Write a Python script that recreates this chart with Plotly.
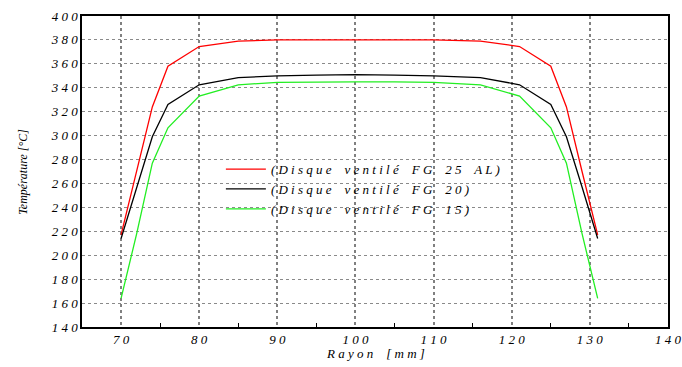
import plotly.graph_objects as go

rayon = [70, 72, 74, 76, 80, 85, 90, 95, 100, 105, 110, 116, 121, 125, 127, 129, 131]
t_fg25al = [217, 270, 324, 358, 374.5, 379, 380, 380, 380, 380, 380, 379, 374.5, 358, 324, 270, 217]
t_fg20 = [214, 257, 299, 326, 342.5, 348.5, 350, 350.5, 351, 350.5, 350, 348.5, 342.5, 326, 299, 257, 214]
t_fg15 = [164, 218, 277, 306.5, 333, 342.5, 344.5, 345, 345, 345, 344.5, 342.5, 333, 306.5, 277, 218, 164]

names = ["(Disque ventilé FG 25 AL)", "(Disque ventilé FG 20)", "(Disque ventilé FG 15)"]
colors = ["#ff0000", "#000000", "#22ee22"]

x_ticks = [70, 80, 90, 100, 110, 120, 130, 140]
y_ticks = list(range(140, 401, 20))


def spaced(s):
    words = s.split(" ")
    return " \u2002 ".join(" ".join(w) for w in words)


def spaced_num(v):
    return " ".join(str(v))


FONT = "Liberation Serif"

fig = go.Figure()
for name, ys, c in zip(names, [t_fg25al, t_fg20, t_fg15], colors):
    fig.add_trace(go.Scatter(x=rayon, y=ys, mode="lines", name=spaced(name),
                             line=dict(color=c, width=1.3)))

fig.update_layout(
    width=682, height=367,
    margin=dict(l=82, r=14, t=16, b=40, autoexpand=False),
    paper_bgcolor="white", plot_bgcolor="white",
    font=dict(family=FONT, size=13, color="black", style="italic"),
    showlegend=True,
    legend=dict(x=0.237, y=0.556, xanchor="left", yanchor="top",
                bgcolor="rgba(0,0,0,0)", borderwidth=0,
                font=dict(family=FONT, size=13, style="italic"),
                tracegroupgap=0, itemwidth=40),
    shapes=[dict(type="rect", xref="paper", yref="paper",
                 x0=(187 - 82) / 586, x1=(528 - 82) / 586,
                 y0=(327 - 217) / 311, y1=(327 - 137) / 311,
                 fillcolor="white", line=dict(width=0), layer="between")],
    annotations=[
        dict(text=spaced("Rayon [mm]"), xref="paper", yref="paper", x=0.5, y=-0.084,
             xanchor="center", yanchor="middle", showarrow=False,
             font=dict(family=FONT, size=13, style="italic")),
        dict(text="Température [°C]", xref="paper", yref="paper", x=-0.102, y=0.5,
             xanchor="center", yanchor="middle", textangle=-90, showarrow=False,
             font=dict(family=FONT, size=12, style="italic")),
    ],
)

fig.update_xaxes(
    range=[65, 140], tickvals=x_ticks, ticktext=[spaced_num(v) for v in x_ticks],
    showgrid=True, gridcolor="#808080", gridwidth=1.5, griddash="dot",
    showline=True, linecolor="black", linewidth=1.5, mirror=True,
    ticks="", zeroline=False, automargin=False,
    tickfont=dict(family=FONT, size=13, style="italic"),
    minor=dict(tickvals=[75, 85, 95, 105, 115, 125, 135], ticks="inside", ticklen=4,
               tickcolor="black", showgrid=False),
)
fig.update_yaxes(
    range=[140, 400], tickvals=y_ticks, ticktext=[spaced_num(v) for v in y_ticks],
    showgrid=True, gridcolor="#8a8a8a", gridwidth=1, griddash="dot",
    showline=True, linecolor="black", linewidth=1.5, mirror=True,
    ticks="", zeroline=False, automargin=False,
    tickfont=dict(family=FONT, size=13, style="italic"),
)

fig.write_html(
    "out.html",
    config={"displayModeBar": False},
    post_script="document.body.style.margin='0';document.body.style.overflow='hidden';",
)
